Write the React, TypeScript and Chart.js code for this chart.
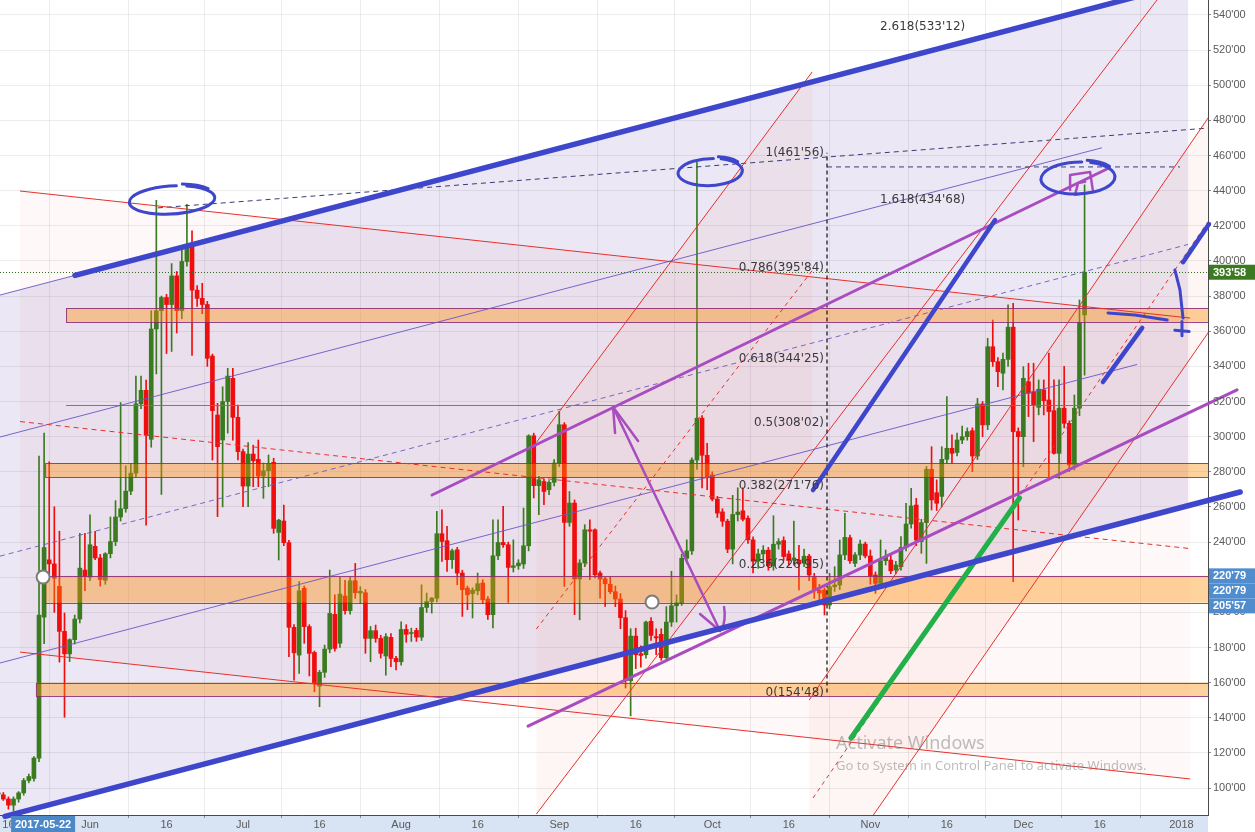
import { useEffect, useRef } from "react";
import { Chart, registerables } from "chart.js";

Chart.register(...registerables);

const WIDTH = 1255;
const HEIGHT = 832;

// Daily candles. x values are days counted from 2017-06-01; the first candle is 2017-05-14.
const FIRST_DAY = -18;

const opens = [
  96.5, 96.2, 93.8, 90.3, 93.8, 97.3, 104.3, 105.5, 117.1, 197.3,
  229.9, 227.6, 214.8, 189.2, 176.4, 184.5, 196.2, 224.1, 220, 237.6,
  231, 218.3, 233.4, 240.3, 254.3, 259, 269, 279.2, 318.7, 326.4,
  298.5, 361.3, 371.7, 379.2, 375.2, 391.5, 371.7, 399.7, 409, 383.4,
  378.7, 375.2, 345.9, 312.3, 298.1, 320, 333.2, 311, 291.5, 271.9,
  290.1, 287.1, 277.6, 280.6, 285.4, 245.5, 252, 239.7, 191.5, 175.7,
  213.7, 191.9, 177.2, 158, 165.9, 179.1, 198.9, 182.4, 209.3, 201,
  218, 211, 211.2, 185.2, 189.6, 185.2, 175.2, 185.8, 173.8, 171.9,
  190.3, 188, 189.7, 185.9, 202.8, 206.2, 208.1, 244.8, 240.8, 230,
  235.6, 222.4, 213.8, 210.7, 212.3, 216.7, 207.6, 198.7, 232.2, 239.8,
  238.5, 225.6, 226.5, 227.5, 237.9, 300.5, 272.1, 274.5, 269.8, 274,
  285, 306.8, 251.2, 262.2, 219, 228.1, 247, 247, 222.4, 219.1,
  216, 211.8, 207.6, 197, 161.1, 186.5, 176.5, 175.9, 194.9, 186.2,
  187.5, 174.2, 194.5, 203.8, 205.4, 230.8, 235, 286.7, 310.5, 289.4,
  278.2, 264.5, 257.2, 251.9, 236, 255.7, 257.8, 253.6, 241.3, 229.1,
  233.3, 235.4, 226.5, 238.8, 240.9, 233.3, 229.7, 229.7, 228, 232,
  220.3, 212.7, 212.7, 204.2, 214.6, 215.6, 232.7, 242.5, 227.9, 232.7,
  238.9, 232.1, 221.3, 216.5, 229.4, 229.8, 224.1, 226, 237, 250.3,
  261.1, 240.3, 251.1, 281.4, 268.1, 266, 287.1, 293.4, 291, 298.1,
  300, 303.4, 289, 318.6, 306.7, 351.2, 342.7, 336.1, 344, 362.3,
  302.9, 300, 331.3, 325.6, 316.7, 326.6, 320.9, 314.8, 290.5, 316.2,
  307.6, 283.9, 316.2, 369.3,
];

const highs = [
  98, 97.5, 95, 95, 98, 105.5, 108, 118, 289, 302,
  285.7, 260.1, 246.2, 199.7, 185, 198.5, 245, 245, 255.5, 246.2,
  233, 234, 254.3, 263.6, 319.4, 283.4, 284.5, 334.5, 334.5, 332.2,
  371.7, 434.5, 380, 381, 398.5, 394, 406.6, 432.2, 417.1, 386,
  387.3, 377, 347, 319, 328.4, 338.9, 338.9, 318, 293, 296.6,
  295.2, 298.1, 285, 289.6, 287.7, 253, 261.1, 241, 193, 217.5,
  215, 193, 178, 167, 181.4, 224.1, 210, 219.9, 218.3, 220,
  227.9, 214.6, 213, 192, 192.8, 187, 188, 188, 175, 194.7,
  193, 191, 191, 215.7, 211, 208.5, 257.5, 258.4, 249, 236,
  237, 224, 215, 214, 222.4, 218.6, 209, 252.7, 252.7, 260.3,
  240, 241.3, 230, 259.4, 301.1, 302, 277.4, 276, 275, 286.9,
  314.4, 308, 268.8, 264, 230, 249.9, 252.7, 247.5, 223.5, 220,
  220, 215, 210.7, 201, 190.7, 191, 181, 195, 197, 190.7,
  190.7, 203.3, 223.4, 210, 233, 241.3, 288, 456.1, 312, 296.2,
  280, 266, 259, 253, 266.6, 270.9, 270.9, 255, 243, 236,
  238, 237, 255, 242, 243, 235, 251.9, 238.2, 236, 233,
  222.2, 216, 214, 222.2, 226, 241.2, 256.4, 244, 234, 241.2,
  240, 235.5, 223, 241.2, 235.5, 233.6, 229, 243.1, 262.1, 270.6,
  264.9, 253, 283, 294.3, 275.4, 294.3, 322.8, 301, 302, 306,
  305, 305, 321.8, 320, 356, 366.4, 345, 347.5, 375, 375.9,
  305, 339.9, 341.8, 341.8, 332.3, 332.3, 347.5, 332.3, 332.3, 340,
  309, 323.7, 377.8, 443.3,
];

const lows = [
  95, 93, 88, 86.9, 92, 96, 103, 104, 115, 182.2,
  222, 200, 171.7, 140.3, 172, 182, 194, 212.4, 218, 230,
  215, 216, 231, 238, 252, 257, 267, 277, 316, 249.7,
  294, 335.7, 267.1, 347.3, 348.5, 359, 367.1, 397, 346.2, 374.1,
  370, 340, 286.7, 254.5, 260, 302, 298, 286.7, 260.1, 260.1,
  271.5, 271.5, 264.9, 271.5, 245, 229.8, 238, 174.8, 161.5, 165.3,
  182.4, 163.8, 154.8, 146.3, 163, 177, 178, 180, 199, 199,
  208, 205, 176.7, 171.9, 183, 174, 164.3, 169.1, 167.3, 170,
  183, 183.5, 183.5, 184, 200, 199.6, 206, 229, 223.3, 225,
  215.7, 197.7, 201.5, 196.8, 210, 205, 196, 191.1, 230, 237,
  205.7, 223, 224.5, 225, 235, 265.1, 255.6, 261.3, 267, 272,
  283, 214.8, 249, 198.7, 195.8, 226, 218.6, 219.6, 208.1, 203.4,
  210.7, 203.3, 190.7, 157, 141.1, 168, 168.8, 174, 184, 176,
  172.7, 172.7, 192, 194.5, 204, 228, 233, 281.4, 270.9, 269.8,
  263.5, 254, 249, 234, 227.6, 252, 252, 239.2, 222.4, 225,
  230, 224, 224, 236, 229.7, 227, 227, 212.8, 226, 218,
  208, 206, 198.5, 202, 212, 213, 230, 227.9, 226, 230,
  231, 216, 210.8, 214, 227, 222, 222, 224, 235, 248,
  238, 233.6, 227.9, 258.3, 258, 260, 285, 284.8, 289, 296,
  298, 280.1, 287, 300, 304, 340, 328.5, 326.6, 340, 217.5,
  252.6, 282.9, 311.4, 297.2, 312.4, 312.4, 277.3, 290, 276.3, 305,
  280.1, 281, 312, 335,
];

const closes = [
  97.3, 93.8, 90.3, 93.8, 97.3, 104.3, 106.6, 117.1, 198.5, 236.9,
  227.6, 219.4, 189.2, 176.4, 184.5, 196.2, 225.2, 220.6, 238.5, 231,
  218.7, 233.4, 240.3, 254.3, 259, 269, 279.2, 318.7, 326.4, 300.8,
  361.3, 371.7, 379.2, 375.2, 391.5, 371.7, 399.7, 409, 383.4, 378.7,
  375.2, 344.6, 314.8, 294.3, 320, 334.5, 311, 291.5, 271.9, 290.1,
  286.3, 277.6, 280.6, 284.8, 247.8, 252.5, 239.7, 191.5, 177, 212.3,
  191.9, 176.7, 160, 165.9, 179.1, 199.4, 179.5, 210.4, 201, 218,
  211.2, 212, 185.2, 189.6, 185.2, 176.7, 186.2, 173.8, 171.9, 190.3,
  187.5, 188.4, 185.9, 202.8, 206.2, 208.1, 244.8, 240.4, 230, 235.1,
  222.4, 212.9, 210, 212.7, 216.3, 207.2, 198.7, 232.2, 239.8, 238.5,
  225.6, 226.5, 228.1, 237.9, 300.5, 272.1, 275.5, 268.8, 274, 285,
  306.8, 251.2, 262.2, 219, 228.1, 247, 246.2, 221.4, 219, 216.3,
  211.8, 207.6, 197, 161.1, 186.5, 175.9, 175.5, 194.5, 186.9, 185.5,
  174.2, 194.5, 203.8, 205.4, 230.8, 235, 286.7, 310.5, 289.4, 276.8,
  264.5, 256.5, 251.9, 236, 255.7, 257.1, 253, 241.3, 229.1, 233.3,
  235.4, 226.5, 238.8, 240.3, 231.8, 229.7, 231, 227.6, 232, 221.3,
  212.7, 211, 204.2, 214.6, 215.6, 232.7, 242.7, 229.4, 232.7, 238.9,
  232.1, 220.7, 216.5, 229.4, 231.7, 223.7, 227, 237, 250.3, 260.6,
  241.2, 251.1, 281.4, 264, 262.1, 287.1, 293.4, 290.5, 298.1, 300,
  302.9, 289, 318.6, 306.7, 351.2, 342.7, 337, 344, 362.3, 302.9,
  300, 333.2, 324.7, 318.1, 327, 320.5, 314.3, 290.5, 316.2, 307.6,
  283.9, 316.2, 364.9, 393.58,
];

const lastPrice = 393.58;
const zoneTags = [220.79, 220.79, 205.57];

const priceTicks = [
  100, 120, 140, 160, 180, 200, 220, 240, 260, 280, 300, 320,
  340, 360, 380, 400, 420, 440, 460, 480, 500, 520, 540,
];

const timeTicks: [number, string][] = [
  [-16, "16"], [0, "Jun"], [15, "16"], [30, "Jul"], [45, "16"], [61, "Aug"],
  [76, "16"], [92, "Sep"], [107, "16"], [122, "Oct"], [137, "16"], [153, "Nov"],
  [168, "16"], [183, "Dec"], [198, "16"], [214, "2018"],
];

const crosshairDay = -9.2;
const crosshairLabel = "2017-05-22";

// Fibonacci retracement levels [ratio, price] and extension levels
const fibLevels: [string, number][] = [
  ["0", 154.48], ["0.236", 226.95], ["0.382", 271.76], ["0.5", 308.02],
  ["0.618", 344.25], ["0.786", 395.84], ["1", 461.56],
];
const extLevels: [string, number][] = [["1.618", 434.68], ["2.618", 533.12]];

// Horizontal zones [low, high, first day]
const zones: [number, number, number][] = [
  [365.3, 373.2, -4.7],
  [277, 285, -8.8],
  [205.57, 220.79, -8.8],
  [152.4, 160, -10.6],
];

// Visible window
const X_MIN = -17.65;
const X_MAX = 219.2;
const Y_MIN = 84.7;
const Y_MAX = 548.5;

type Pt = [number, number];

const FIB_DAY = 144.5;
const EXT_DAY = 154.9;

const PURPLE_THIN = "rgba(104, 88, 200, 0.9)";
const PURPLE_DASH = "rgba(108, 92, 184, 0.9)";
const NAVY_DASH = "#3b3b78";
const RED_LINE = "#e8302c";
const BLUE_PEN = "#3e46cb";
const MAGENTA_PEN = "#a84cc0";
const GREEN_PEN = "#22b04a";

const channelFills: { pts: Pt[]; color: string }[] = [
  { pts: [[-17.65, 380.6], [215.3, 558.1], [215.3, 260.7], [-17.65, 83.2]], color: "rgba(112, 84, 176, 0.14)" },
  { pts: [[-13.73, 439.8], [215.7, 367.5], [215.7, 105.2], [-13.73, 177.4]], color: "rgba(240, 70, 60, 0.035)" },
  { pts: [[87.5, 296.7], [141.6, 507.6], [141.6, 291.2], [87.5, 85.2]], color: "rgba(240, 70, 60, 0.05)" },
  { pts: [[141, 150.1], [219.6, 483], [219.6, 360.7], [141, 32]], color: "rgba(240, 70, 60, 0.05)" },
];

type Stroke = { pts: Pt[]; color: string; width: number; dash?: number[]; free?: boolean };

const strokes: Stroke[] = [
  // channel lines
  { pts: [[-17.65, 380.6], [215.3, 558.1]], color: PURPLE_THIN, width: 1 },
  { pts: [[-17.65, 299.8], [198.4, 464.4]], color: PURPLE_THIN, width: 1 },
  { pts: [[-17.65, 171.2], [205.3, 341.1]], color: PURPLE_THIN, width: 1 },
  { pts: [[-17.65, 83.2], [215.3, 260.7]], color: PURPLE_THIN, width: 1 },
  { pts: [[-17.65, 232.0], [215.3, 409.4]], color: PURPLE_DASH, width: 1, dash: [5, 4] },
  { pts: [[13.3, 430.2], [219.6, 475.7]], color: NAVY_DASH, width: 1, dash: [5, 4] },
  { pts: [[FIB_DAY, 453.5], [213.7, 453.5]], color: NAVY_DASH, width: 1, dash: [5, 4] },
  // red channels
  { pts: [[-13.73, 439.8], [215.7, 367.5]], color: RED_LINE, width: 1 },
  { pts: [[-13.73, 177.4], [215.7, 105.2]], color: RED_LINE, width: 1 },
  { pts: [[-13.73, 308.6], [215.7, 236.3]], color: RED_LINE, width: 1, dash: [5, 4] },
  { pts: [[87.5, 296.7], [141.6, 507.6]], color: RED_LINE, width: 1 },
  { pts: [[87.5, 190.5], [141.7, 394.9]], color: RED_LINE, width: 1, dash: [4, 4] },
  { pts: [[87.5, 85.2], [209.2, 548.5]], color: RED_LINE, width: 1 },
  { pts: [[141, 150.1], [219.6, 483]], color: RED_LINE, width: 1 },
  { pts: [[141.76, 94.4], [219.2, 422.4]], color: RED_LINE, width: 1, dash: [4, 4] },
  { pts: [[152.9, 81.8], [219.6, 360.7]], color: RED_LINE, width: 1 },
  // fib baseline
  { pts: [[FIB_DAY, 154.48], [FIB_DAY, 461.56]], color: "#1e1e1e", width: 1.3, dash: [4, 3] },
  // pen strokes
  { pts: [[67.06, 266.8], [199.8, 452.9]], color: MAGENTA_PEN, width: 3 },
  { pts: [[85.88, 135.3], [224.9, 326.6]], color: MAGENTA_PEN, width: 3, free: true },
  { pts: [[102.55, 316.9], [123.53, 189.4]], color: MAGENTA_PEN, width: 2.5 },
  { pts: [[192.16, 440.4], [192.16, 448.9], [196.08, 450.6], [196.67, 439.3], [193.14, 437.6], [193.73, 444.4], [195.1, 445]], color: MAGENTA_PEN, width: 2.5 },
  { pts: [[149.2, 128.5], [182.25, 265.1]], color: GREEN_PEN, width: 5 },
  { pts: [[-2.94, 391.8], [204.7, 550]], color: BLUE_PEN, width: 5.5 },
  { pts: [[-16.67, 83.95], [225.5, 268.5]], color: BLUE_PEN, width: 5.5, free: true },
  { pts: [[141.76, 269.6], [177.45, 423.3]], color: BLUE_PEN, width: 4.5 },
  { pts: [[198.6, 331.1], [206.3, 361.9]], color: BLUE_PEN, width: 4.5 },
  { pts: [[214.3, 399.3], [219.4, 421]], color: BLUE_PEN, width: 4.5, free: true },
  { pts: [[199.6, 370.4], [204.9, 369.3], [211.2, 366.4]], color: BLUE_PEN, width: 3 },
  { pts: [[212.7, 394.9], [213.7, 383.5], [214.3, 367.5]], color: BLUE_PEN, width: 3 },
  { pts: [[212.7, 360.6], [215.5, 359.8]], color: BLUE_PEN, width: 3 },
  { pts: [[214.1, 365.5], [214.1, 357.5]], color: BLUE_PEN, width: 3 },
];

// hand-drawn loops: centre, half width (days), half height (price)
const loops: { c: Pt; rx: number; ry: number; rot: number }[] = [
  { c: [16.08, 434.7], rx: 8.4, ry: 8.0, rot: -0.06 },
  { c: [121.6, 450.6], rx: 6.3, ry: 7.7, rot: -0.05 },
  { c: [193.7, 447.2], rx: 7.25, ry: 9.1, rot: -0.04 },
];

const markers: Pt[] = [[-9.2, 220.1], [110.2, 205.9]];

const GREEN = "#3b7b20";
const RED = "#f00d0d";

const fmt = (v: number) => v.toFixed(2).replace(".", "'");
const AXIS_FONT = "11px 'Liberation Sans', Arial, sans-serif";

function px(chart: any, d: number) {
  return chart.scales.x.getPixelForValue(d);
}
function py(chart: any, p: number) {
  return chart.scales.y.getPixelForValue(p);
}

function path(chart: any, ctx: CanvasRenderingContext2D, pts: Pt[]) {
  ctx.beginPath();
  pts.forEach(([d, p], i) => {
    const x = px(chart, d);
    const y = py(chart, p);
    if (i === 0) ctx.moveTo(x, y);
    else ctx.lineTo(x, y);
  });
}

function drawStroke(chart: any, ctx: CanvasRenderingContext2D, s: Stroke) {
  path(chart, ctx, s.pts);
  ctx.strokeStyle = s.color;
  ctx.lineWidth = s.width;
  ctx.setLineDash(s.dash || []);
  ctx.lineCap = s.width > 2 ? "round" : "butt";
  ctx.lineJoin = "round";
  ctx.stroke();
}

const drawingsPlugin = {
  id: "chartDrawings",
  beforeDraw(chart: any) {
    const { ctx, chartArea: a } = chart;
    ctx.save();
    ctx.fillStyle = "#ffffff";
    ctx.fillRect(0, 0, WIDTH, HEIGHT);
    ctx.fillStyle = "#d8e4f4";
    ctx.fillRect(0, a.bottom, a.right, HEIGHT - a.bottom);
    ctx.restore();
  },
  beforeDatasetsDraw(chart: any) {
    const { ctx, chartArea: a } = chart;
    ctx.save();
    ctx.beginPath();
    ctx.rect(a.left, a.top, a.right - a.left, a.bottom - a.top);
    ctx.clip();
    for (const f of channelFills) {
      path(chart, ctx, f.pts);
      ctx.closePath();
      ctx.fillStyle = f.color;
      ctx.fill();
    }
    ctx.restore();
  },
  afterDatasetsDraw(chart: any) {
    const { ctx, chartArea: a } = chart;
    ctx.save();
    ctx.beginPath();
    ctx.rect(a.left, a.top, a.right - a.left, a.bottom - a.top);
    ctx.clip();

    // zones
    for (const [lo, hi, start] of zones) {
      const x0 = px(chart, start);
      const y0 = py(chart, hi);
      const y1 = py(chart, lo);
      ctx.fillStyle = "rgba(255, 145, 10, 0.4)";
      ctx.fillRect(x0, y0, a.right - x0, y1 - y0);
      ctx.strokeStyle = "rgba(135, 40, 115, 0.85)";
      ctx.lineWidth = 1;
      ctx.setLineDash([]);
      ctx.strokeRect(x0 + 0.5, Math.round(y0) + 0.5, a.right - x0 + 5, Math.round(y1 - y0));
    }

    // horizontal teal line
    ctx.beginPath();
    ctx.moveTo(px(chart, -4.7), Math.round(py(chart, 318)) + 0.5);
    ctx.lineTo(px(chart, 215.7), Math.round(py(chart, 318)) + 0.5);
    ctx.strokeStyle = "rgba(28, 158, 138, 0.95)";
    ctx.lineWidth = 1;
    ctx.stroke();

    // last price line
    const ly = Math.round(py(chart, lastPrice)) + 0.5;
    ctx.beginPath();
    ctx.moveTo(a.left, ly);
    ctx.lineTo(a.right, ly);
    ctx.setLineDash([1, 2]);
    ctx.strokeStyle = "#2f6d1a";
    ctx.stroke();
    ctx.setLineDash([]);

    for (const s of strokes) if (!s.free) drawStroke(chart, ctx, s);

    // arrow heads on the magenta arrow
    const tx = px(chart, 102.55), ty = py(chart, 316.9);
    const bx = px(chart, 123.53), by = py(chart, 189.4);
    ctx.strokeStyle = MAGENTA_PEN;
    ctx.lineWidth = 2.5;
    ctx.lineCap = "round";
    ctx.setLineDash([]);
    ctx.beginPath();
    ctx.moveTo(tx + 2, ty + 26);
    ctx.lineTo(tx, ty);
    ctx.lineTo(tx + 25, ty + 34);
    ctx.moveTo(bx - 20, by - 17);
    ctx.lineTo(bx, by);
    ctx.moveTo(bx + 4, by - 24);
    ctx.quadraticCurveTo(bx + 6, by - 12, bx + 2, by - 2);
    ctx.stroke();

    // loops
    for (const l of loops) {
      const cx = px(chart, l.c[0]);
      const cy = py(chart, l.c[1]);
      const rx = Math.abs(px(chart, l.c[0] + l.rx) - cx);
      const ry = Math.abs(py(chart, l.c[1] + l.ry) - cy);
      ctx.beginPath();
      ctx.ellipse(cx, cy, rx, ry, l.rot, -1.2, 2 * Math.PI - 1.45);
      ctx.strokeStyle = BLUE_PEN;
      ctx.lineWidth = 3;
      ctx.stroke();
      ctx.beginPath();
      ctx.ellipse(cx + 2, cy - 1, rx * 0.98, ry * 1.05, l.rot, -1.35, -0.6);
      ctx.stroke();
    }

    // markers
    for (const [d, p] of markers) {
      ctx.beginPath();
      ctx.arc(px(chart, d), py(chart, p), 6.5, 0, Math.PI * 2);
      ctx.fillStyle = "#ffffff";
      ctx.fill();
      ctx.lineWidth = 2;
      ctx.strokeStyle = "#7c7c7c";
      ctx.stroke();
    }

    // fib labels
    ctx.font = "12px 'DejaVu Sans', Verdana, sans-serif";
    ctx.fillStyle = "#3a3a3a";
    ctx.textBaseline = "middle";
    ctx.textAlign = "right";
    const fx = px(chart, FIB_DAY) - 3;
    for (const [r, p] of fibLevels) ctx.fillText(`${r}(${fmt(p)})`, fx, py(chart, p));
    ctx.textAlign = "left";
    const ex = px(chart, EXT_DAY);
    for (const [r, p] of extLevels) ctx.fillText(`${r}(${fmt(p)})`, ex, py(chart, p));

    ctx.restore();

    // pen strokes that run past the plot edge
    ctx.save();
    for (const s of strokes) if (s.free) drawStroke(chart, ctx, s);
    ctx.restore();
  },
  afterDraw(chart: any) {
    const { ctx, chartArea: a } = chart;
    ctx.save();
    ctx.font = AXIS_FONT;
    ctx.textBaseline = "middle";

    // price labels
    ctx.fillStyle = "#5a5a5a";
    ctx.textAlign = "left";
    for (const t of priceTicks) ctx.fillText(fmt(t), a.right + 5, py(chart, t));

    // time labels
    ctx.textAlign = "center";
    for (const [d, label] of timeTicks) ctx.fillText(label, px(chart, d), a.bottom + 10);

    // crosshair date tag
    const cx = px(chart, crosshairDay);
    ctx.fillStyle = "#4c88c8";
    ctx.fillRect(cx - 32, a.bottom + 1, 64, HEIGHT - a.bottom - 1);
    ctx.fillStyle = "#ffffff";
    ctx.font = "bold 11px 'Liberation Sans', Arial, sans-serif";
    ctx.fillText(crosshairLabel, cx, a.bottom + 9.5);

    // last price tag
    const ly = py(chart, lastPrice);
    ctx.fillStyle = "#3c7a22";
    ctx.fillRect(a.right + 1, ly - 7.5, 46, 15);
    ctx.fillStyle = "#ffffff";
    ctx.textAlign = "left";
    ctx.fillText(fmt(lastPrice), a.right + 5, ly + 0.5);

    // zone price tags, stacked
    const baseY = py(chart, zoneTags[0]);
    zoneTags.forEach((v, i) => {
      const y = baseY + i * 15;
      ctx.fillStyle = "#4f8dcf";
      ctx.fillRect(a.right + 1, y - 7.5, 46, 15);
      ctx.fillStyle = "#ffffff";
      ctx.fillText(fmt(v), a.right + 5, y + 0.5);
    });

    // watermark
    ctx.fillStyle = "rgba(125, 125, 125, 0.5)";
    ctx.textBaseline = "alphabetic";
    ctx.font = "18px 'Noto Sans', 'Open Sans', sans-serif";
    ctx.fillText("Activate Windows", 836, 749);
    ctx.font = "13px 'Noto Sans', 'Open Sans', sans-serif";
    ctx.fillText("Go to System in Control Panel to activate Windows.", 836, 770);
    ctx.restore();
  },
};

export default function App() {
  const canvasRef = useRef<HTMLCanvasElement | null>(null);

  useEffect(() => {
    const canvas = canvasRef.current;
    if (!canvas) return;
    const days = opens.map((_, i) => FIRST_DAY + i);
    const colors = opens.map((o, i) => (closes[i] >= o ? GREEN : RED));

    const chart = new Chart(canvas, {
      type: "bar",
      data: {
        datasets: [
          {
            label: "wicks",
            data: days.map((d, i) => ({ x: d, y: [lows[i], highs[i]] })) as any,
            backgroundColor: colors,
            barThickness: 1,
            grouped: false,
            order: 2,
          },
          {
            label: "bodies",
            data: days.map((d, i) => ({ x: d, y: [opens[i], closes[i]] })) as any,
            backgroundColor: colors,
            barThickness: 4,
            minBarLength: 1,
            grouped: false,
            order: 1,
          },
        ],
      },
      options: {
        animation: false,
        responsive: false,
        devicePixelRatio: 1,
        layout: { padding: 0 },
        plugins: { legend: { display: false }, tooltip: { enabled: false } },
        scales: {
          x: {
            type: "linear",
            min: X_MIN,
            max: X_MAX,
            offset: false,
            afterBuildTicks: (s: any) => {
              s.ticks = timeTicks.map(([d]) => ({ value: d }));
            },
            afterFit: (s: any) => {
              s.height = HEIGHT - 815;
            },
            ticks: { display: false },
            grid: { color: "rgba(0, 0, 0, 0.075)", tickLength: 3, tickColor: "#8a8a8a" },
            border: { color: "#4a4a4a" },
          },
          y: {
            type: "linear",
            position: "right",
            min: Y_MIN,
            max: Y_MAX,
            afterBuildTicks: (s: any) => {
              s.ticks = priceTicks.map((v) => ({ value: v }));
            },
            afterFit: (s: any) => {
              s.width = WIDTH - 1208;
            },
            ticks: { display: false },
            grid: { color: "rgba(0, 0, 0, 0.075)", tickLength: 3, tickColor: "#8a8a8a" },
            border: { color: "#4a4a4a" },
          },
        },
      } as any,
      plugins: [drawingsPlugin],
    });
    return () => chart.destroy();
  }, []);

  return (
    <div style={{ position: "fixed", left: 0, top: 0, width: WIDTH, height: HEIGHT, background: "#ffffff" }}>
      <canvas ref={canvasRef} width={WIDTH} height={HEIGHT} style={{ display: "block", width: WIDTH, height: HEIGHT }} />
    </div>
  );
}
